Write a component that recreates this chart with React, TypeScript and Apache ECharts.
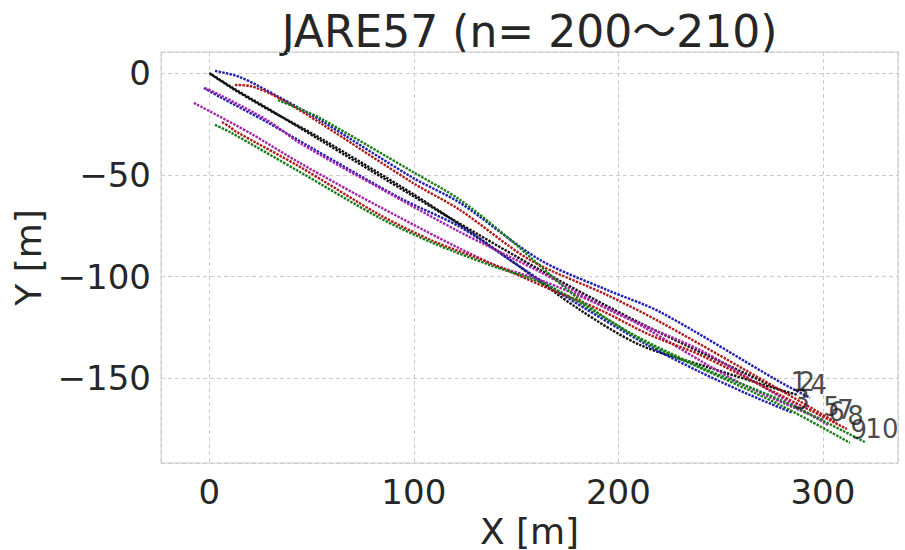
import React, { useEffect, useRef } from 'react';
import * as echarts from 'echarts';

const FONT = '"DejaVu Sans", "Noto Sans CJK JP", sans-serif';
const TEXT_COLOR = '#262626';

const titleText = 'JARE57 (n= 200～210)';
const xAxisName = 'X [m]';
const yAxisName = 'Y [m]';

const trajectoryNames = ['1', '2', '3', '4', '5', '6', '7', '8', '9', '10'];
const trajectoryColors = ['#111111', '#111111', '#1f1fb8', '#1f1fb8', '#a424ab', '#a424ab', '#b01a1a', '#b01a1a', '#187d18', '#187d18'];

const x1 = [0, 11.6, 28.2, 54.1, 99.6, 117.7, 161.7, 210.5, 279.0, 283.9];
const y1 = [0, -7.4, -17.2, -32.9, -60.4, -71.2, -96.7, -122.7, -155.6, -158.1];

const x2 = [0.8, 11.6, 28.2, 54.1, 99.6, 122.6, 148.5, 181.2, 210.5, 243.3, 279.0, 287.8];
const y2 = [-0.6, -7.8, -17.6, -31.9, -59.4, -74.6, -92.8, -116.3, -133.5, -144.3, -155.6, -158.1];

const x3 = [-2.6, 5.2, 28.2, 49.2, 93.3, 122.6, 148.5, 172.9, 214.0, 239.9, 264.3, 285.3];
const y3 = [-7.4, -11.8, -24.1, -36.3, -61.4, -75.6, -92.8, -109.0, -133.5, -146.8, -158.1, -166.9];

const x4 = [2.8, 15.0, 33.1, 54.1, 99.6, 122.6, 161.7, 194.4, 220.3, 279.0, 293.7];
const y4 = [1.0, -2.0, -11.3, -23.1, -51.5, -63.8, -91.8, -106.5, -117.3, -151.7, -159.5];

const x5 = [-7.5, 19.9, 44.3, 83.4, 137.2, 161.7, 194.4, 210.5, 259.4, 299.9];
const y5 = [-14.7, -29.5, -44.2, -65.8, -93.3, -101.6, -115.4, -123.7, -152.2, -170.3];

const x6 = [-2.1, 5.2, 28.2, 44.3, 84.9, 122.6, 161.7, 197.4, 239.9, 269.2, 302.4];
const y6 = [-7.4, -10.8, -23.1, -34.4, -57.4, -78.1, -97.7, -117.3, -136.0, -153.2, -172.8];

const x7 = [12.6, 19.9, 33.1, 54.1, 99.6, 122.6, 156.8, 194.4, 220.3, 279.0, 306.8];
const y7 = [-5.9, -6.4, -11.8, -24.5, -54.0, -67.3, -91.8, -109.0, -122.2, -155.6, -171.8];

const x8 = [6.2, 10.1, 12.6, 44.3, 83.4, 109.4, 137.2, 165.1, 191.0, 215.4, 239.9, 279.0, 311.7];
const y8 = [-24.1, -26.5, -28.5, -46.1, -69.7, -82.5, -93.3, -105.5, -116.3, -128.6, -138.4, -158.1, -174.8];

const x9 = [2.8, 10.1, 44.3, 83.4, 109.4, 137.2, 165.1, 191.0, 215.4, 239.9, 279.0, 313.2];
const y9 = [-25.5, -29.0, -48.6, -71.2, -83.5, -94.3, -104.1, -118.8, -133.5, -144.8, -163.0, -181.6];

const x10 = [33.6, 44.3, 54.1, 99.6, 122.6, 145.5, 181.2, 205.7, 239.9, 279.0, 320.5];
const y10 = [-13.3, -17.7, -22.1, -48.6, -62.3, -80.5, -111.4, -127.6, -144.3, -160.5, -181.2];

const trajectoryX = [x1, x2, x3, x4, x5, x6, x7, x8, x9, x10];
const trajectoryY = [y1, y2, y3, y4, y5, y6, y7, y8, y9, y10];

const xMin = -23.6;
const xMax = 336.7;
const yMin = -191.5;
const yMax = 10.3;

const fmtTick = (step: number) => (v: number) => {
  if (Math.abs(v / step - Math.round(v / step)) > 1e-6) return '';
  return v < 0 ? '\u2212' + Math.abs(v) : String(v);
};

export default function App() {
  const ref = useRef<HTMLDivElement>(null);
  useEffect(() => {
    if (!ref.current) return;
    const chart = echarts.init(ref.current, undefined, { renderer: 'svg' });

    const lineSeries = trajectoryX.map((xs, i) => ({
      type: 'line',
      name: trajectoryNames[i],
      data: xs.map((x, j) => [x, trajectoryY[i][j]]),
      showSymbol: false,
      smooth: 0.3,
      silent: true,
      lineStyle: { color: trajectoryColors[i], width: 2.4, type: [2.5, 1.2] },
      z: 2,
    }));

    const labelData = trajectoryX.map((xs, i) => [xs[xs.length - 1], trajectoryY[i][trajectoryY[i].length - 1], trajectoryNames[i]]);

    chart.setOption({
      animation: false,
      backgroundColor: '#ffffff',
      grid: {
        left: 161, right: 7, top: 52, bottom: 87,
        containLabel: false, outerBoundsMode: 'none',
        show: true, borderColor: '#cccccc', borderWidth: 1,
      },
      xAxis: {
        type: 'value', min: xMin, max: xMax,
        name: xAxisName, nameLocation: 'middle', nameGap: 34,
        nameTextStyle: { fontFamily: FONT, fontSize: 36, color: TEXT_COLOR },
        axisLine: { show: false }, axisTick: { show: false },
        axisLabel: { formatter: fmtTick(100), fontFamily: FONT, fontSize: 34, color: TEXT_COLOR, margin: 12, showMinLabel: false, showMaxLabel: false },
        splitLine: { show: true, lineStyle: { color: '#cccccc', type: [4, 3], width: 1 } },
      },
      yAxis: {
        type: 'value', min: yMin, max: yMax,
        name: yAxisName, nameLocation: 'middle', nameGap: 110, nameRotate: 90,
        nameTextStyle: { fontFamily: FONT, fontSize: 36, color: TEXT_COLOR },
        axisLine: { show: false }, axisTick: { show: false },
        axisLabel: { formatter: fmtTick(50), fontFamily: FONT, fontSize: 34, color: TEXT_COLOR, margin: 10, showMinLabel: false, showMaxLabel: false },
        splitLine: { show: true, lineStyle: { color: '#cccccc', type: [4, 3], width: 1 } },
      },
      graphic: [
        {
          type: 'text', x: 529.5, y: 31,
          style: { text: titleText, fontFamily: FONT, fontSize: 44, fill: TEXT_COLOR, align: 'center', verticalAlign: 'middle' },
        },
      ],
      series: [
        ...lineSeries,
        {
          type: 'scatter',
          data: labelData,
          symbolSize: 1,
          clip: false,
          silent: true,
          z: 5,
          itemStyle: { color: 'rgba(0,0,0,0)' },
          label: {
            show: true,
            formatter: (p: any) => p.value[2],
            position: 'right',
            distance: 0,
            align: 'left',
            verticalAlign: 'bottom',
            offset: [0, 7],
            fontFamily: FONT,
            fontSize: 26,
            color: '#1a1a1a',
          },
          labelLayout: { hideOverlap: false },
        },
      ],
    });
    return () => chart.dispose();
  }, []);
  return <div ref={ref} style={{ position: 'fixed', left: 0, top: 0, width: 905, height: 550, background: '#fff' }} />;
}
